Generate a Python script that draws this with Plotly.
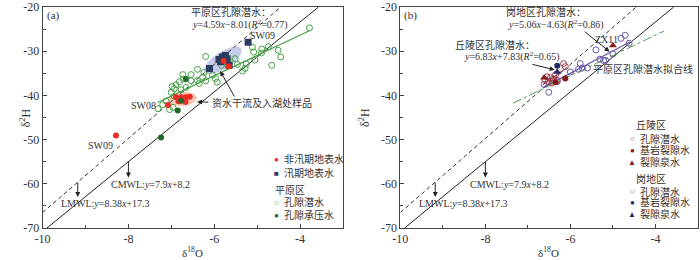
import numpy as np
import plotly.graph_objects as go

# ---------------- data ----------------
# Panel (a)
a_nonflood_x = [-6.89, -6.77, -6.66, -6.57, -6.83, -6.67, -7.08, -5.78, -5.66, -8.29]
a_nonflood_y = [-40.4, -40.4, -40.4, -40.3, -41.3, -41.5, -42.2, -32.2, -33.4, -49.1]
a_flood_x = [-6.11, -5.89, -5.81, -5.74, -5.70, -5.85, -5.65, -5.21]
a_flood_y = [-33.9, -31.9, -31.3, -31.0, -31.7, -32.4, -33.2, -28.0]
a_phreatic_x = [-3.78, -4.74, -5.11, -4.89, -5.08, -4.90, -4.51, -4.45, -4.66, -5.28, -5.34,
                -5.51, -6.20, -5.68, -5.68, -5.83, -6.39, -6.24, -6.04, -6.54, -6.73, -6.27,
                -6.20, -5.97, -5.93, -6.54, -6.39, -6.72, -6.89, -6.98, -6.93, -6.77, -6.66,
                -6.81, -7.00, -6.93, -7.12, -7.20, -7.31, -6.96, -7.04, -6.35, -5.25, -5.05,
                -5.46]
a_phreatic_y = [-24.7, -29.0, -29.1, -29.5, -30.2, -30.4, -29.8, -31.3, -33.2, -33.9, -34.5,
                -31.7, -31.2, -31.9, -33.3, -33.2, -34.1, -34.8, -35.4, -35.3, -35.3, -35.9,
                -36.7, -36.2, -37.0, -36.7, -36.6, -36.3, -37.6, -38.0, -38.5, -38.7, -38.2,
                -36.9, -39.3, -40.2, -41.3, -42.1, -43.0, -42.7, -43.2, -37.3, -32.9, -32.0,
                -33.0]
a_confined_x = [-6.66, -6.85, -6.77, -7.24]
a_confined_y = [-36.3, -43.4, -41.2, -49.5]

# Panel (b)
b_hill_phreatic_x = [-6.55, -6.47, -6.40, -6.52, -6.43, -6.31, -6.16, -6.12, -6.60, -6.35]
b_hill_phreatic_y = [-35.8, -36.0, -36.3, -36.9, -37.2, -36.6, -32.8, -33.5, -36.4, -35.3]
b_hill_bedrock_x = [-6.12, -6.35]
b_hill_bedrock_y = [-36.2, -37.0]
b_hill_spring_x = [-5.00, -6.62]
b_hill_spring_y = [-28.7, -36.0]
b_gang_phreatic_x = [-4.71, -4.81, -4.62, -5.40, -5.31, -5.22, -5.00, -5.77, -5.81, -5.72,
                     -6.00, -6.31, -6.51, -6.62, -5.17, -5.60]
b_gang_phreatic_y = [-26.4, -27.1, -28.2, -29.7, -31.8, -32.1, -30.6, -32.8, -34.1, -33.8,
                     -34.7, -36.9, -39.3, -37.5, -32.1, -33.8]
b_gang_bedrock_x = [-6.31]
b_gang_bedrock_y = [-33.3]
b_gang_spring_x = [-6.31]
b_gang_spring_y = [-34.7]

# meteoric water lines and fits: (slope, intercept, x-start, x-end)
lmwl = (8.38, 17.3)
cmwl = (7.9, 8.2)
plain_fit = (4.59, -8.01, -7.32, -3.78)
plain_fit_b = (4.59, -8.01, -7.35, -3.80)
gang_fit = (5.06, -4.63, -6.62, -4.60)
hill_fit = (6.83, 7.83, -6.65, -6.15)

x_ticks = [-10, -8, -6, -4]
x_ticktext = ["-10", "-8", "-6", "-4"]
y_ticks = [-70, -60, -50, -40, -30, -20]
y_ticktext = ["-70", "-60", "-50", "-40", "-30", "-20"]

# ---------------- styling ----------------
FONT = "Liberation Serif, Noto Sans CJK SC, serif"
TXT = "#333333"
AX = "#444444"
XS, YS = 43.4, 4.46  # px per unit (for ellipse shapes)

RED = "#ee2b24"
NAVY = "#2c3c5e"
GREEN = "#46a046"
DGREEN = "#1f6a2a"
PURPLE = "#6a58a8"
RUST = "#9a3a48"
DRED = "#8a1a1a"
DNAVY = "#25286a"
FS = 10

fig = go.Figure()


def line_pts(m, c, x0, x1):
    xs = np.array([x0, x1])
    return xs, m * xs + c


def add_sc(x, y, xa, ya, symbol, color, size, open_=False, lw=1):
    if open_:
        marker = dict(symbol=symbol, size=size, color="rgba(0,0,0,0)",
                      line=dict(color=color, width=lw))
    else:
        marker = dict(symbol=symbol, size=size, color=color, line=dict(width=0))
    fig.add_trace(go.Scatter(x=x, y=y, mode="markers", marker=marker,
                             xaxis=xa, yaxis=ya, showlegend=False, hoverinfo="x+y"))


def add_line(m, c, x0, x1, xa, ya, color, dash="solid", width=1):
    xs, ys = line_pts(m, c, x0, x1)
    fig.add_trace(go.Scatter(x=xs, y=ys, mode="lines",
                             line=dict(color=color, dash=dash, width=width),
                             xaxis=xa, yaxis=ya, showlegend=False, hoverinfo="skip"))


def ellipse_path(cx, cy, a, b, ang):
    th = np.radians(ang)
    t = np.linspace(0, 2 * np.pi, 60)
    dx = a * np.cos(t) * np.cos(th) - b * np.sin(t) * np.sin(th)
    dy = a * np.cos(t) * np.sin(th) + b * np.sin(t) * np.cos(th)
    xs = cx + dx / XS
    ys = cy + dy / YS
    p = "M %f,%f " % (xs[0], ys[0]) + " ".join("L %f,%f" % (u, v) for u, v in zip(xs[1:], ys[1:]))
    return p + " Z"


# ellipses (panel a)
fig.add_shape(type="path", path=ellipse_path(-5.80, -32.1, 22, 8.5, 33), xref="x", yref="y",
              fillcolor="rgba(150,160,215,0.55)", line=dict(width=0), layer="below")
fig.add_shape(type="path", path=ellipse_path(-6.74, -40.8, 14.5, 7, 4), xref="x", yref="y",
              fillcolor="rgba(245,165,135,0.6)", line=dict(width=0), layer="below")

for xa, ya in (("x", "y"), ("x2", "y2")):
    add_line(lmwl[0], lmwl[1], -10, (-20 - lmwl[1]) / lmwl[0], xa, ya, "#333", dash="4px,3px", width=1)
    add_line(cmwl[0], cmwl[1], (-70 - cmwl[1]) / cmwl[0], (-20 - cmwl[1]) / cmwl[0], xa, ya, "#222", width=1)

# panel a
add_line(*plain_fit, "x", "y", GREEN, width=1.2)
add_sc(a_phreatic_x, a_phreatic_y, "x", "y", "circle", GREEN, 6, open_=True)
add_sc(a_flood_x, a_flood_y, "x", "y", "square", NAVY, 7)
add_sc(a_nonflood_x, a_nonflood_y, "x", "y", "circle", RED, 6)
add_sc(a_confined_x, a_confined_y, "x", "y", "circle", DGREEN, 6)

# panel b
add_line(*plain_fit_b, "x2", "y2", "#4fa04f", dash="dashdot", width=1)
add_line(*gang_fit, "x2", "y2", PURPLE, width=1.2)
add_line(*hill_fit, "x2", "y2", RUST, width=1.2)
add_sc(b_gang_phreatic_x, b_gang_phreatic_y, "x2", "y2", "circle", PURPLE, 6, open_=True)
add_sc(b_hill_phreatic_x, b_hill_phreatic_y, "x2", "y2", "circle", RUST, 6, open_=True)
add_sc(b_hill_bedrock_x, b_hill_bedrock_y, "x2", "y2", "circle", DRED, 6)
add_sc(b_hill_spring_x, b_hill_spring_y, "x2", "y2", "triangle-up", DRED, 7)
add_sc(b_gang_bedrock_x, b_gang_bedrock_y, "x2", "y2", "circle", DNAVY, 6)
add_sc(b_gang_spring_x, b_gang_spring_y, "x2", "y2", "triangle-up", DNAVY, 7)

ann = []


def text(x, y, s, xref="x", yref="y", size=FS, xanchor="center", color=TXT, **kw):
    ann.append(dict(x=x, y=y, text=s, xref=xref, yref=yref, showarrow=False,
                    font=dict(family=FONT, size=size, color=color), xanchor=xanchor, **kw))


def arrow(x0, y0, x1, y1, xref="x", yref="y"):
    ann.append(dict(x=x1, y=y1, ax=x0, ay=y0, xref=xref, yref=yref, axref=xref, ayref=yref,
                    showarrow=True, arrowhead=2, arrowsize=1, arrowwidth=1, arrowcolor="#222",
                    text=""))


# panel a annotations
text(-9.75, -22.0, "(a)", size=11)
text(-5.62, -21.1, "平原区孔隙潜水：")
text(-5.39, -24.0, "<i>y</i>=4.59<i>x</i>−8.01(<i>R</i><sup>2</sup>=0.77)")
text(-4.88, -26.4, "SW09")
text(-7.65, -42.2, "SW08")
text(-4.88, -41.8, "资水干流及入湖处样品")
arrow(-5.51, -40.6, -5.86, -34.5)
arrow(-6.10, -41.5, -6.40, -41.5)
text(-8.66, -51.3, "SW09")
text(-7.49, -60.2, "CMWL:<i>y</i>=7.9<i>x</i>+8.2")
text(-8.53, -64.4, "LMWL:<i>y</i>=8.38<i>x</i>+17.3")
arrow(-8.0, -54.6, -8.0, -58.6)
arrow(-9.18, -59.4, -9.18, -63.0)

# panel a legend
leg_a = [(-54.4, "●", RED, "非汛期地表水"), (-57.6, "■", NAVY, "汛期地表水"),
         (-64.2, "○", GREEN, "孔隙潜水"), (-67.1, "●", DGREEN, "孔隙承压水")]
for yy, g, col, lab in leg_a:
    text(-4.54, yy, g, size=8, color=col)
    text(-4.43, yy, lab, xanchor="left")
text(-4.62, -61.5, "平原区", xanchor="left")

# panel b annotations
text(-9.75, -22.0, "(b)", xref="x2", yref="y2", size=11)
text(-6.58, -21.1, "岗地区孔隙潜水：", xref="x2", yref="y2")
text(-6.35, -24.0, "<i>y</i>=5.06<i>x</i>−4.63(<i>R</i><sup>2</sup>=0.86)", xref="x2", yref="y2")
arrow(-5.70, -25.3, -5.08, -30.1, xref="x2", yref="y2")
text(-7.78, -28.6, "丘陵区孔隙潜水：", xref="x2", yref="y2")
text(-7.37, -31.2, "<i>y</i>=6.83<i>x</i>+7.83(<i>R</i><sup>2</sup>=0.65)", xref="x2", yref="y2")
arrow(-6.93, -32.9, -6.37, -34.2, xref="x2", yref="y2")
text(-5.15, -27.3, "ZX11", xref="x2", yref="y2")
text(-3.06, -34.0, "平原区孔隙潜水拟合线", xref="x2", yref="y2", xanchor="right")
text(-7.44, -60.2, "CMWL:<i>y</i>=7.9<i>x</i>+8.2", xref="x2", yref="y2")
text(-8.52, -64.4, "LMWL:<i>y</i>=8.38<i>x</i>+17.3", xref="x2", yref="y2")
arrow(-8.0, -54.6, -8.0, -58.6, xref="x2", yref="y2")
arrow(-9.18, -59.4, -9.18, -63.0, xref="x2", yref="y2")

leg_b = [(-49.8, "○", RUST, "孔隙潜水"), (-52.4, "●", DRED, "基岩裂隙水"), (-55.1, "▲", DRED, "裂隙泉水"),
         (-61.8, "○", PURPLE, "孔隙潜水"), (-64.2, "●", DNAVY, "基岩裂隙水"), (-66.9, "▲", DNAVY, "裂隙泉水")]
for yy, g, col, lab in leg_b:
    text(-4.55, yy, g, xref="x2", yref="y2", size=8, color=col)
    text(-4.42, yy, lab, xref="x2", yref="y2", xanchor="left")
text(-4.50, -46.9, "丘陵区", xref="x2", yref="y2", xanchor="left")
text(-4.50, -58.9, "岗地区", xref="x2", yref="y2", xanchor="left")

# axis titles
for xc in (0.267, 0.781):
    text(xc, -0.108, "δ<sup>18</sup>O", xref="paper", yref="paper", size=11, yanchor="middle")
for xc in (0.012, 0.515):
    ann.append(dict(x=xc, y=0.5, xref="paper", yref="paper", text="δ<sup>2</sup>H", showarrow=False,
                    textangle=-90, font=dict(family=FONT, size=12, color=TXT)))

axis_common = dict(showline=True, linecolor=AX, linewidth=1, mirror=True, ticks="inside",
                   ticklen=4, tickcolor=AX, showgrid=False, zeroline=False,
                   ticklabeloverflow="allow",
                   tickfont=dict(family=FONT, size=12, color=TXT))
xax = dict(axis_common, range=[-10, -3], tickvals=x_ticks, ticktext=x_ticktext,
           minor=dict(ticks="inside", ticklen=3, tickcolor=AX, dtick=1, tick0=-10))
yax = dict(axis_common, range=[-70, -20], tickvals=y_ticks, ticktext=y_ticktext,
           minor=dict(ticks="inside", ticklen=3, tickcolor=AX, dtick=5, tick0=-70))

fig.update_layout(
    width=700, height=260,
    margin=dict(l=0, r=0, t=5, b=32),
    paper_bgcolor="white", plot_bgcolor="white",
    xaxis=dict(xax, domain=[0.05, 0.484], anchor="y"),
    yaxis=dict(yax, domain=[0, 1], anchor="x"),
    xaxis2=dict(xax, domain=[0.567, 0.997], anchor="y2"),
    yaxis2=dict(yax, domain=[0, 1], anchor="x2"),
    annotations=ann,
    showlegend=False,
)

fig.write_html("out.html", config={"displayModeBar": False},
               post_script="document.body.style.margin='0';document.body.style.overflow='hidden';")
